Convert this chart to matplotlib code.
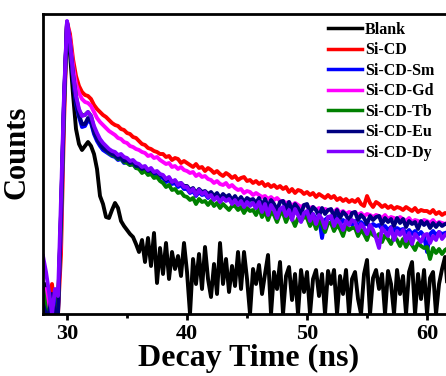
import numpy as np
import matplotlib
matplotlib.use("Agg")
import matplotlib.pyplot as plt

plt.rcParams['font.family'] = ['Liberation Serif', 'DejaVu Serif']
plt.rcParams['font.weight'] = 'bold'

# time axis (ns), 0.25 ns per channel
t = np.arange(136) * 0.25 + 28.0

blank = [20, 30, 10, 0, 15, 5, 100, 210,
         290, 260, 220, 185, 170, 164, 168, 172,
         168, 160, 145, 118, 110, 97, 96, 104,
         111, 106, 93, 88, 84, 80, 77, 70,
         62, 74, 52, 76, 48, 81, 31, 66,
         40, 71, 35, 62, 45, 58, 38, 71,
         42, 0, 55, 30, 60, 25, 67, 35,
         17, 50, 20, 71, 30, 55, 22, 48,
         28, 62, 25, 62, 35, 0, 45, 30,
         49, 20, 40, 59, 0, 42, 25, 52,
         0, 38, 47, 14, 40, 0, 44, 22,
         42, 0, 35, 44, 18, 40, 0, 43,
         30, 44, 0, 38, 20, 44, 0, 35,
         42, 15, 0, 40, 54, 0, 36, 44,
         25, 40, 0, 43, 30, 0, 44, 20,
         38, 0, 42, 52, 0, 40, 15, 44,
         0, 36, 42, 0, 30, 45, 57, 20]

si_cd = [5, 0, 0, 30, 0, 0, 60, 190,
         292, 280, 255, 238, 228, 222, 219, 218,
         215, 209, 205, 202, 199, 197, 194, 191,
         189, 188, 185, 184, 181, 180, 177, 176,
         173, 170, 169, 166, 165, 163, 162, 160,
         160, 157, 158, 154, 156, 155, 151, 153,
         151, 149, 147, 150, 146, 147, 143, 146,
         144, 141, 143, 140, 138, 141, 139, 136,
         138, 134, 136, 137, 133, 134, 131, 133,
         130, 132, 128, 130, 127, 129, 126, 128,
         125, 127, 122, 125, 121, 124, 123, 120,
         122, 119, 121, 117, 120, 118, 116, 119,
         116, 118, 114, 116, 113, 115, 112, 114,
         112, 115, 110, 108, 118, 111, 107, 112,
         110, 107, 109, 106, 108, 105, 107, 106,
         104, 107, 105, 103, 106, 102, 104, 103,
         103, 101, 104, 100, 102, 99, 101, 100]

si_cd_sm = [30, 0, 0, 0, 15, 0, 95, 210,
            292, 268, 236, 210, 197, 187, 188, 194,
            191, 180, 173, 168, 164, 162, 160, 158,
            157, 154, 155, 151, 152, 149, 150, 146,
            146, 143, 145, 141, 142, 139, 140, 137,
            136, 132, 134, 130, 131, 127, 129, 125,
            125, 121, 123, 118, 122, 119, 120, 116,
            119, 115, 118, 112, 117, 114, 115, 111,
            114, 110, 113, 107, 112, 109, 111, 106,
            110, 106, 109, 104, 108, 105, 107, 103,
            106, 101, 104, 99, 103, 100, 102, 98,
            101, 97, 100, 95, 96, 76, 94, 97,
            95, 92, 97, 90, 94, 91, 95, 89,
            93, 88, 92, 89, 91, 86, 90, 88,
            89, 85, 88, 84, 87, 83, 86, 84,
            85, 81, 84, 80, 83, 79, 82, 78,
            62, 80, 83, 79, 82, 80, 81, 82]

si_cd_gd = [0, 25, 0, 0, 0, 10, 80, 205,
            292, 275, 248, 230, 221, 215, 212, 211,
            208, 202, 196, 192, 189, 186, 183, 181,
            179, 176, 175, 172, 171, 168, 167, 165,
            164, 162, 161, 158, 159, 156, 157, 154,
            152, 150, 151, 147, 148, 145, 147, 144,
            143, 141, 142, 138, 140, 137, 138, 135,
            134, 131, 133, 130, 129, 131, 127, 129,
            126, 124, 125, 121, 123, 122, 119, 121,
            119, 117, 118, 115, 117, 114, 116, 113,
            113, 111, 112, 108, 111, 109, 107, 109,
            108, 106, 107, 104, 106, 103, 105, 104,
            104, 102, 105, 101, 103, 100, 102, 101,
            102, 99, 101, 98, 100, 99, 97, 99,
            98, 96, 99, 95, 97, 96, 94, 97,
            95, 93, 96, 92, 94, 93, 91, 94,
            93, 91, 94, 90, 92, 91, 90, 92]

si_cd_tb = [25, 5, 0, 0, 0, 10, 90, 205,
            290, 270, 240, 218, 203, 199, 199, 202,
            198, 186, 177, 171, 167, 164, 161, 159,
            158, 155, 156, 152, 151, 149, 150, 146,
            145, 141, 143, 139, 140, 136, 137, 133,
            131, 127, 129, 124, 125, 121, 122, 118,
            117, 114, 116, 110, 115, 112, 113, 109,
            113, 108, 111, 106, 110, 107, 104, 108,
            108, 104, 107, 101, 106, 103, 104, 99,
            106, 97, 103, 94, 102, 99, 92, 100,
            101, 92, 99, 95, 88, 96, 93, 97,
            96, 88, 94, 85, 93, 90, 82, 91,
            91, 83, 89, 85, 78, 88, 84, 86,
            86, 78, 84, 80, 74, 83, 79, 77,
            80, 72, 79, 75, 70, 78, 74, 68,
            75, 67, 73, 69, 64, 71, 68, 66,
            67, 55, 66, 61, 65, 60, 64, 66]

si_cd_eu = [10, 0, 0, 20, 0, 0, 100, 215,
            292, 270, 238, 212, 199, 190, 190, 196,
            193, 182, 175, 170, 166, 164, 162, 160,
            159, 156, 157, 153, 154, 151, 152, 148,
            148, 145, 147, 143, 144, 141, 142, 139,
            138, 134, 136, 132, 133, 130, 131, 128,
            128, 124, 126, 121, 125, 122, 123, 120,
            122, 118, 121, 116, 120, 117, 119, 114,
            118, 113, 117, 112, 116, 114, 115, 111,
            116, 108, 115, 107, 114, 110, 104, 112,
            113, 105, 112, 103, 110, 106, 100, 109,
            110, 101, 107, 104, 98, 106, 100, 104,
            105, 97, 104, 96, 102, 99, 93, 101,
            102, 94, 99, 96, 90, 98, 94, 97,
            98, 90, 96, 92, 95, 88, 96, 91,
            95, 87, 93, 90, 92, 85, 93, 89,
            92, 86, 91, 87, 91, 88, 90, 90]

si_cd_dy = [58, 42, 22, 0, 25, 18, 115, 218,
            293, 272, 240, 218, 205, 198, 199, 202,
            198, 188, 181, 175, 171, 168, 165, 163,
            162, 159, 160, 157, 156, 153, 154, 151,
            150, 147, 148, 144, 146, 142, 143, 140,
            139, 135, 137, 132, 134, 129, 131, 127,
            127, 122, 125, 119, 124, 120, 122, 117,
            119, 114, 117, 112, 116, 113, 115, 110,
            114, 109, 113, 107, 112, 108, 111, 106,
            112, 102, 110, 99, 109, 104, 96, 105,
            107, 98, 104, 94, 105, 99, 92, 101,
            103, 93, 100, 90, 99, 95, 86, 97,
            98, 88, 95, 91, 84, 93, 89, 94,
            92, 83, 90, 86, 80, 89, 84, 76,
            66, 86, 82, 78, 86, 74, 83, 79,
            84, 73, 81, 70, 80, 76, 72, 79,
            80, 71, 78, 74, 82, 75, 79, 81]

series = [("Blank", blank, "#000000"),
          ("Si-CD", si_cd, "#ff0000"),
          ("Si-CD-Sm", si_cd_sm, "#0000ff"),
          ("Si-CD-Gd", si_cd_gd, "#ff00ff"),
          ("Si-CD-Tb", si_cd_tb, "#008000"),
          ("Si-CD-Eu", si_cd_eu, "#000080"),
          ("Si-CD-Dy", si_cd_dy, "#8000ff")]

fig = plt.figure(figsize=(4.46, 3.76), dpi=100)
ax = fig.add_axes([43 / 446, 62 / 376, 403 / 446, 300 / 376])

for name, vals, col in series:
    ax.plot(t, vals, color=col, lw=2.8, label=name)

ax.set_xlim(28.0, 61.58)
ax.set_ylim(0, 300)
ax.set_xticks([30, 40, 50, 60])
ax.set_xticks([35, 45, 55], minor=True)
ax.set_yticks([])
ax.tick_params(axis='x', which='major', direction='out', length=4, width=2,
               labelsize=16, pad=3)
ax.tick_params(axis='x', which='minor', direction='out', length=3, width=2)
for lab in ax.get_xticklabels():
    lab.set_fontweight('bold')
for s in ['left', 'bottom', 'top']:
    ax.spines[s].set_linewidth(2)
ax.spines['right'].set_visible(False)

ax.set_xlabel('Decay Time (ns)', fontsize=23, fontweight='bold')
ax.xaxis.set_label_coords(0.511, -0.10)
ax.set_ylabel('Counts', fontsize=22, fontweight='bold')
ax.yaxis.set_label_coords(-0.028, 0.54)

leg = ax.legend(loc='upper left', bbox_to_anchor=(328 / 446, 1 - 22 / 376),
                bbox_transform=fig.transFigure, frameon=False, borderpad=0,
                borderaxespad=0, handlelength=2.1, handletextpad=0.2,
                labelspacing=0.28, prop={'size': 11.5, 'weight': 'bold'})
for h in leg.get_lines():
    h.set_linewidth(2.5)

fig.savefig('out.png', dpi=100)
